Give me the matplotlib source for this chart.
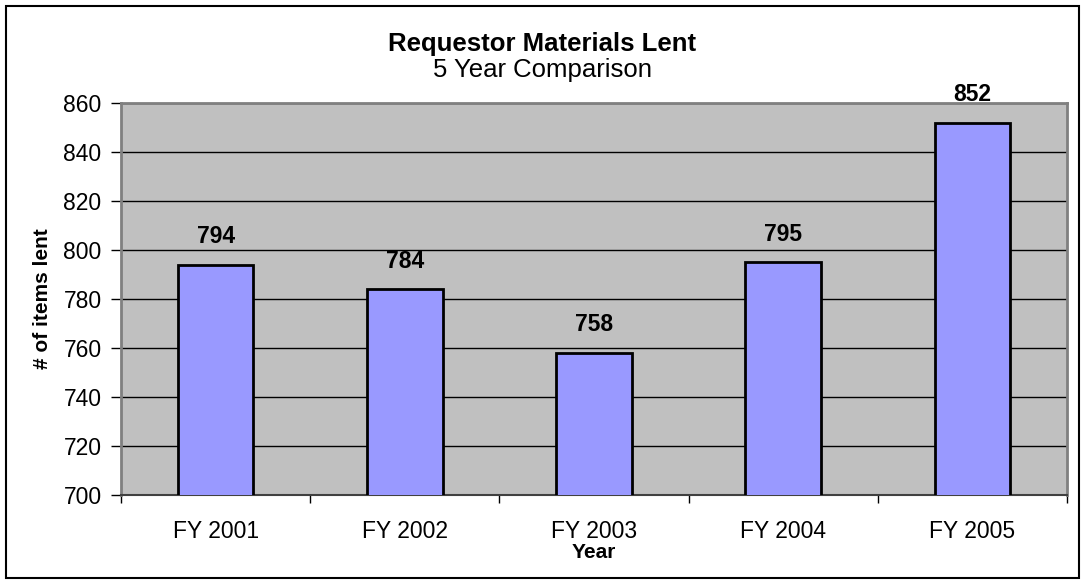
import numpy as np
import matplotlib.pyplot as plt
from matplotlib.patches import Rectangle

plt.rcParams['font.family'] = ['Liberation Sans', 'DejaVu Sans']

years = ['FY 2001', 'FY 2002', 'FY 2003', 'FY 2004', 'FY 2005']
items_lent = [794, 784, 758, 795, 852]
y_ticks = [700, 720, 740, 760, 780, 800, 820, 840, 860]

fig = plt.figure(figsize=(10.85, 5.84), dpi=100)
ax = fig.add_axes([0.1115, 0.1524, 0.8719, 0.6712])

x = np.arange(len(years))
ax.set_facecolor('#C0C0C0')
bars = ax.bar(x, items_lent, width=0.4, color='#9999FF', edgecolor='black',
              linewidth=2, zorder=3)

# value labels over each bar
for xi, v in zip(x, items_lent):
    ax.annotate(str(v), (xi, v), xytext=(0, 12), textcoords='offset points',
                ha='center', va='bottom', fontsize=16.5, fontweight='bold')

ax.set_xlim(-0.5, len(years) - 0.5)
ax.set_ylim(700, 860)
ax.set_yticks(y_ticks)
ax.tick_params(axis='y', labelsize=16.5, length=7, width=1, direction='out', pad=7)
ax.yaxis.grid(True, color='black', linewidth=1, zorder=1)
ax.set_axisbelow(True)

# categories labelled at centres, ticks at boundaries
ax.set_xticks(np.arange(-0.5, len(years), 1.0))
ax.set_xticklabels([])
ax.set_xticks(x, minor=True)
ax.set_xticklabels(years, minor=True)
ax.tick_params(axis='x', which='major', length=6, width=1, direction='out')
ax.tick_params(axis='x', which='minor', length=0, labelsize=16.5, pad=18)

for side in ['left', 'top', 'right']:
    ax.spines[side].set_color('#808080')
    ax.spines[side].set_linewidth(2)
ax.spines['bottom'].set_color('#404040')
ax.spines['bottom'].set_linewidth(1.5)

ax.set_ylabel('# of items lent', fontsize=15, fontweight='bold', labelpad=8)
ax.set_xlabel('Year', fontsize=15, fontweight='bold', labelpad=0)

fig.text(0.5, 1 - 44 / 584, 'Requestor Materials Lent', ha='center', va='center',
         fontsize=18.5, fontweight='bold')
fig.text(0.5, 1 - 70 / 584, '5 Year Comparison', ha='center', va='center', fontsize=18.5)

# chart area border
fig.patches.append(Rectangle((6 / 1085, 6 / 584), 1073 / 1085, 572 / 584,
                             transform=fig.transFigure, fill=False,
                             edgecolor='black', linewidth=1.5))

fig.savefig('out.png', dpi=100)
